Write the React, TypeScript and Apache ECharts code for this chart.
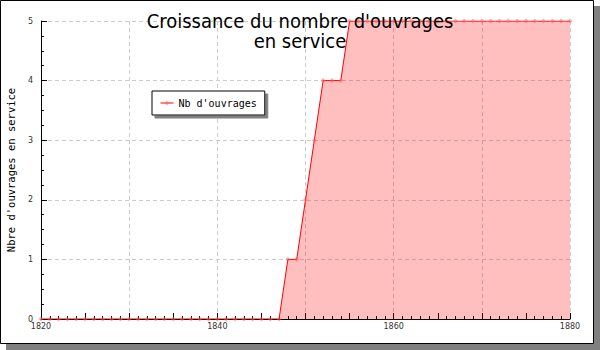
import React, { useEffect, useRef } from "react";
import * as echarts from "echarts";

const years = [
  1820, 1821, 1822, 1823, 1824, 1825, 1826, 1827, 1828, 1829,
  1830, 1831, 1832, 1833, 1834, 1835, 1836, 1837, 1838, 1839,
  1840, 1841, 1842, 1843, 1844, 1845, 1846, 1847, 1848, 1849,
  1850, 1851, 1852, 1853, 1854, 1855, 1856, 1857, 1858, 1859,
  1860, 1861, 1862, 1863, 1864, 1865, 1866, 1867, 1868, 1869,
  1870, 1871, 1872, 1873, 1874, 1875, 1876, 1877, 1878, 1879,
  1880,
];
const ouvrages = [
  0, 0, 0, 0, 0, 0, 0, 0, 0, 0,
  0, 0, 0, 0, 0, 0, 0, 0, 0, 0,
  0, 0, 0, 0, 0, 0, 0, 0, 1, 1,
  2, 3, 4, 4, 4, 5, 5, 5, 5, 5,
  5, 5, 5, 5, 5, 5, 5, 5, 5, 5,
  5, 5, 5, 5, 5, 5, 5, 5, 5, 5,
  5,
];
const yTicks = [0, 1, 2, 3, 4, 5];
const xLabelYears = [1820, 1840, 1860, 1880];

const titleText = "Croissance du nombre d'ouvrages\nen service";
const yName = "Nbre d'ouvrages en service";
const seriesName = "Nb d'ouvrages";

const MONO = "'DejaVu Sans Mono', 'Liberation Mono', monospace";

export default function App() {
  const ref = useRef<HTMLDivElement>(null);
  useEffect(() => {
    if (!ref.current) return;
    const chart = echarts.init(ref.current, null, { renderer: "svg" });
    const data = years.map((y, i) => [y, ouvrages[i]]);
    chart.setOption({
      animation: false,
      backgroundColor: "transparent",
      graphic: [
        { type: "rect", z: -20, shape: { x: 6, y: 6, width: 594, height: 344 }, style: { fill: "#808080" }, silent: true },
        { type: "rect", z: -19, shape: { x: 0.5, y: 0.5, width: 593, height: 343 }, style: { fill: "#ffffff", stroke: "#000000", lineWidth: 1 }, silent: true },
      ],
      title: {
        text: titleText,
        left: "center",
        top: 6,
        textStyle: {
          fontFamily: "'DejaVu Sans Condensed', 'DejaVu Sans', sans-serif",
          fontSize: 20,
          fontWeight: "normal",
          color: "#000",
          lineHeight: 20,
        },
      },
      legend: {
        left: 152,
        top: 91,
        padding: [7, 8, 7, 8],
        backgroundColor: "#ffffff",
        borderColor: "#000000",
        borderWidth: 1,
        borderRadius: 0,
        shadowColor: "#808080",
        shadowBlur: 0,
        shadowOffsetX: 3,
        shadowOffsetY: 3,
        itemWidth: 13,
        itemHeight: 6,
        lineStyle: { width: 1, color: "#ff0000" },
        itemStyle: { color: "rgba(255,90,90,0.45)" },
        textStyle: { fontFamily: MONO, fontSize: 10, color: "#000" },
        data: [seriesName],
      },
      grid: { left: 41, right: 30, top: 21, bottom: 31, outerBoundsMode: "none", containLabel: false },
      xAxis: [
        {
          type: "value",
          min: 1820,
          max: 1880,
          interval: 5,
          position: "bottom",
          axisLine: { show: true, lineStyle: { color: "#000", width: 1 } },
          axisTick: { show: true, inside: true, length: 6, lineStyle: { color: "#000" } },
          minorTick: { show: true, splitNumber: 5, length: 3, lineStyle: { color: "#000" } },
          splitLine: { show: false },
          axisLabel: {
            fontSize: 8,
            color: "#333",
            margin: 3,
            fontFamily: "'DejaVu Sans', sans-serif",
            formatter: (v: number) => (xLabelYears.indexOf(v) >= 0 ? String(v) : ""),
          },
        },
        {
          type: "value",
          min: 1820,
          max: 1880,
          interval: 10,
          position: "bottom",
          axisLine: { show: false },
          axisTick: { show: false },
          axisLabel: { show: false },
          splitLine: { show: true, lineStyle: { color: "#cccccc", type: [4, 3], width: 1 } },
        },
      ],
      yAxis: {
        type: "value",
        min: 0,
        max: 5,
        interval: 1,
        name: yName,
        nameLocation: "middle",
        nameGap: 25,
        nameTextStyle: { fontFamily: MONO, fontSize: 10.5, color: "#000" },
        axisLine: { show: true, lineStyle: { color: "#000", width: 1 } },
        axisTick: { show: true, inside: true, length: 6, lineStyle: { color: "#000" } },
        minorTick: { show: true, splitNumber: 4, length: 3, lineStyle: { color: "#000" } },
        splitLine: { show: true, lineStyle: { color: "#cccccc", type: [4, 3], width: 1 } },
        axisLabel: {
          fontSize: 8,
          color: "#333",
          margin: 8,
          fontFamily: "'DejaVu Sans', sans-serif",
          formatter: (v: number) => (yTicks.indexOf(v) >= 0 ? String(v) : ""),
        },
      },
      series: [
        {
          name: seriesName,
          type: "line",
          xAxisIndex: 0,
          yAxisIndex: 0,
          data,
          symbol: "diamond",
          symbolSize: 5,
          showSymbol: true,
          itemStyle: { color: "rgba(255,90,90,0.5)" },
          lineStyle: { color: "#ff0000", width: 1 },
          areaStyle: { color: "rgba(255,0,0,0.25)", opacity: 1 },
          z: 2,
        },
      ],
    });
    return () => chart.dispose();
  }, []);
  return (
    <div
      ref={ref}
      style={{ position: "absolute", left: 0, top: 0, width: 600, height: 350 }}
    />
  );
}
